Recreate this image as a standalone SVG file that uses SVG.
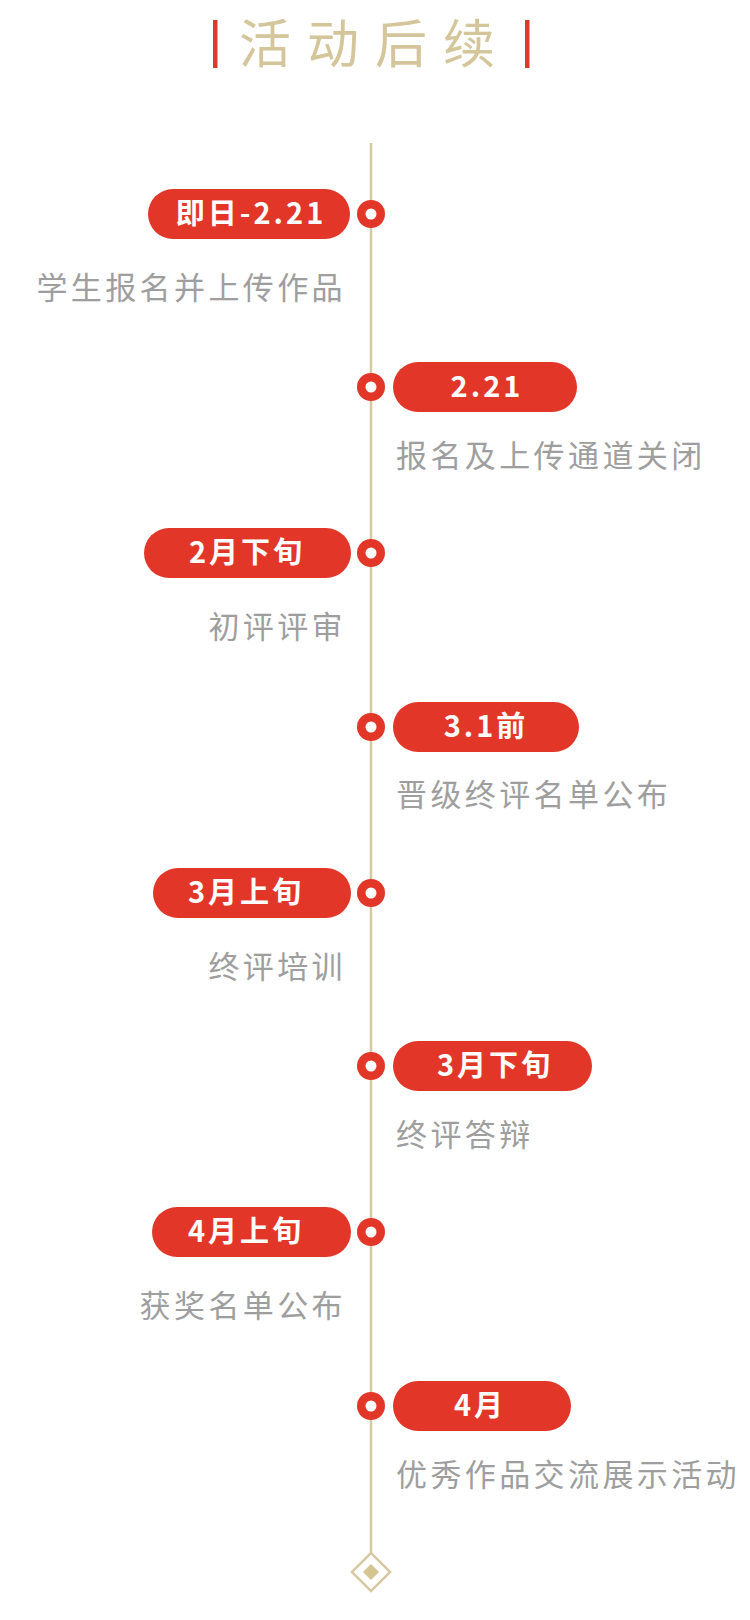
<svg xmlns="http://www.w3.org/2000/svg" width="750" height="1620" viewBox="0 0 750 1620">
<style>
.title{font-family:"Noto Sans CJK SC","Noto Sans",sans-serif;font-size:52px;fill:#d4c59a;letter-spacing:16px}
.bar{fill:#dd3a2c}
.pill{fill:#e23628}
.pt{font-family:"Noto Sans CJK SC","Noto Sans",sans-serif;font-size:29px;font-weight:bold;fill:#ffffff;letter-spacing:3px;text-anchor:middle}
.desc{font-family:"Noto Sans CJK SC","Noto Sans",sans-serif;font-size:31px;fill:#9e9e9e;letter-spacing:3.4px}
.l{text-anchor:end}
.dot{fill:#e23628}
.dotc{fill:#ffffff}
.axis{stroke:#d6c8a2;stroke-width:2.5;fill:none}
</style>
<rect width="750" height="1620" fill="#ffffff"/>
<g id="title">
<rect class="bar" x="213" y="20" width="4.5" height="48"/>
<rect class="bar" x="525" y="20" width="4.5" height="48"/>
<text class="title" x="239" y="63">活动后续</text>
</g>
<g id="connectors">
<line class="axis" x1="371" y1="143" x2="371" y2="1553"/>
<rect class="axis" x="357.5" y="1558.5" width="27" height="27" transform="rotate(45 371 1572)"/>
<rect x="365.3" y="1566.3" width="11.4" height="11.4" fill="#d4c48f" transform="rotate(45 371 1572)"/>
</g>
<g id="n1">
<rect class="pill" x="148" y="189" width="202" height="50" rx="25"/>
<text class="pt" x="251" y="224">即日-2.21</text>
<circle class="dot" cx="371" cy="214" r="14"/><circle class="dotc" cx="371" cy="214" r="5.5"/>
<text class="desc l" x="346" y="299">学生报名并上传作品</text>
</g>
<g id="n2">
<rect class="pill" x="393" y="362" width="184" height="50" rx="25"/>
<text class="pt" x="487" y="397">2.21</text>
<circle class="dot" cx="371" cy="387" r="14"/><circle class="dotc" cx="371" cy="387" r="5.5"/>
<text class="desc" x="396" y="467">报名及上传通道关闭</text>
</g>
<g id="n3">
<rect class="pill" x="144" y="528" width="207" height="50" rx="25"/>
<text class="pt" x="247" y="563">2月下旬</text>
<circle class="dot" cx="371" cy="553" r="14"/><circle class="dotc" cx="371" cy="553" r="5.5"/>
<text class="desc l" x="346" y="638">初评评审</text>
</g>
<g id="n4">
<rect class="pill" x="393" y="702" width="186" height="50" rx="25"/>
<text class="pt" x="486" y="737">3.1前</text>
<circle class="dot" cx="371" cy="727" r="14"/><circle class="dotc" cx="371" cy="727" r="5.5"/>
<text class="desc" x="396" y="806">晋级终评名单公布</text>
</g>
<g id="n5">
<rect class="pill" x="153" y="868" width="198" height="50" rx="25"/>
<text class="pt" x="246" y="903">3月上旬</text>
<circle class="dot" cx="371" cy="893" r="14"/><circle class="dotc" cx="371" cy="893" r="5.5"/>
<text class="desc l" x="346" y="978">终评培训</text>
</g>
<g id="n6">
<rect class="pill" x="393" y="1041" width="199" height="50" rx="25"/>
<text class="pt" x="495" y="1076">3月下旬</text>
<circle class="dot" cx="371" cy="1066" r="14"/><circle class="dotc" cx="371" cy="1066" r="5.5"/>
<text class="desc" x="396" y="1146">终评答辩</text>
</g>
<g id="n7">
<rect class="pill" x="152" y="1207" width="199" height="50" rx="25"/>
<text class="pt" x="246" y="1242">4月上旬</text>
<circle class="dot" cx="371" cy="1232" r="14"/><circle class="dotc" cx="371" cy="1232" r="5.5"/>
<text class="desc l" x="346" y="1317">获奖名单公布</text>
</g>
<g id="n8">
<rect class="pill" x="393" y="1381" width="178" height="50" rx="25"/>
<text class="pt" x="480" y="1416">4月</text>
<circle class="dot" cx="371" cy="1406" r="14"/><circle class="dotc" cx="371" cy="1406" r="5.5"/>
<text class="desc" x="396" y="1486">优秀作品交流展示活动</text>
</g>
</svg>
